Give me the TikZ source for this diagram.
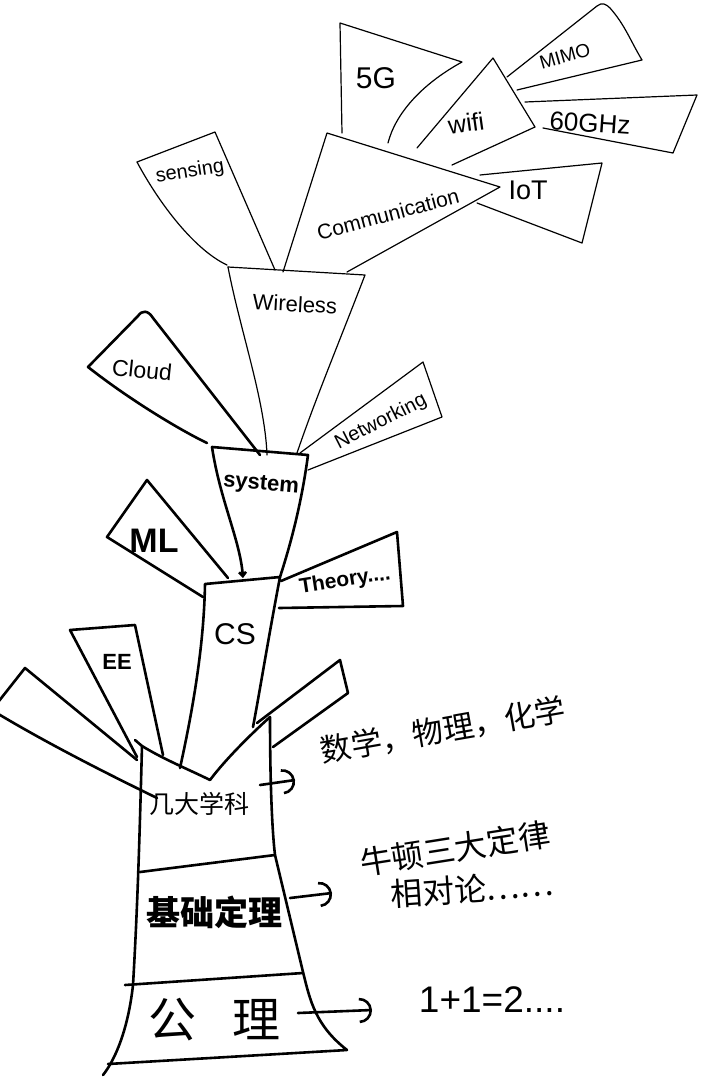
\documentclass[tikz,border=0pt]{standalone}
\usepackage{fontspec}
\setmainfont{Liberation Sans}
\newfontfamily\cjk{Noto Sans CJK SC}
\usetikzlibrary{arrows.meta}
\begin{document}
\begin{tikzpicture}[x=1pt,y=-1pt,
  thickln/.style={line width=2.6pt, line join=round, line cap=round},
  thinln/.style={line width=1.2pt, line join=round, line cap=round},
  lbl/.style={inner sep=0pt},
  hookarrow/.style={thickln, -{Arc Barb[scale=1.9]}},
  fsz/.style={node font=\fontsize{#1}{#1}\selectfont}]
\useasboundingbox (0,0) rectangle (720,1090);
\fill[white] (0,0) rectangle (720,1090);

% ---------- upper thin leaves ----------
% 5G
\draw[thinln] (342,133) -- (340,23) -- (462,62) .. controls (420,85) and (395,115) .. (388,143);
% wifi
\draw[thinln] (417,148) -- (493,58) -- (535,127) -- (452,165);
% MIMO
\draw[thinln] (507,77) -- (597,6) .. controls (602,2) and (606,4) .. (610,8) .. controls (625,25) and (630,40) .. (642,60) -- (517,90);
% 60GHz
\draw[thinln] (525,102) -- (697,95) -- (673,153) -- (543,128);
% IoT
\draw[thinln] (480,175) -- (602,163) -- (582,243) -- (477,203);
% Communication
\draw[thinln] (283,272) -- (327,133) -- (500,187) -- (347,272);
% Sensing
\draw[thinln] (275,270) -- (215,132) -- (137,162) .. controls (160,205) and (195,250) .. (227,265);
% Wireless
\draw[thinln] (228,267) -- (365,275) .. controls (340,340) and (315,400) .. (297,453);
\draw[thinln] (228,267) .. controls (240,330) and (265,400) .. (267,455);
% Networking
\draw[thinln] (300,453) -- (423,362) -- (442,417) -- (308,470);

% ---------- thick middle ----------
% Cloud
\draw[thickln] (260,455) -- (153,318) .. controls (148,310) and (142,310) .. (138,316) -- (88,367) .. controls (130,400) and (180,430) .. (207,443);
% System
\draw[thickln] (212,447) -- (308,455) .. controls (302,500) and (292,540) .. (280,577);
\draw[thickln, -{Straight Barb[length=4pt,width=7pt]}] (212,447) .. controls (220,500) and (240,540) .. (243,578);
% ML
\draw[thickln] (228,578) -- (147,480) -- (107,537) -- (203,597);
% Theory
\draw[thickln] (281,581) -- (397,532) -- (403,606) -- (279,608);
% CS
\draw[thickln] (180,768) .. controls (195,700) and (204,640) .. (205,584) -- (280,577) .. controls (268,640) and (260,690) .. (253,727);
% EE
\draw[thickln] (137,757) -- (70,630) -- (135,625) -- (163,755);
% left big branch
\draw[thickln] (137,760) -- (25,668) -- (-5,706);
\draw[thickln] (-5,712) .. controls (50,745) and (110,775) .. (157,798);
% right branch
\draw[thickln] (257,723) -- (340,660) -- (348,693) -- (273,747);

% ---------- trunk ----------
\draw[thickln] (135,740) -- (142,746) .. controls (165,760) and (190,770) .. (210,780) .. controls (225,760) and (250,735) .. (270,717);
\draw[thickln] (142,746) .. controls (140,820) and (138,900) .. (133,985) .. controls (128,1030) and (115,1060) .. (103,1075);
\draw[thickln] (270,717) .. controls (270,780) and (272,830) .. (275,855) -- (303,972) .. controls (310,1000) and (315,1025) .. (347,1050) -- (108,1064);
\draw[thickln] (140,872) -- (275,855);
\draw[thickln] (125,985) -- (303,973);

% ---------- labels ----------
\node[lbl, fsz=30] (t5g) at (376,78) {5G};
\node[lbl, fsz=25, rotate=8] (twifi) at (466,123) {wifi};
\node[lbl, fsz=19, rotate=16] (tmimo) at (565,56) {MIMO};
\node[lbl, fsz=26, rotate=-4] (t60) at (590,123) {60GHz};
\node[lbl, fsz=27] (tiot) at (528,190) {IoT};
\node[lbl, fsz=21, rotate=15] (tcomm) at (388,214) {Communication};
\node[lbl, fsz=20, rotate=9] (tsens) at (190,172) {sensing};
\node[lbl, fsz=22, rotate=-3] (twire) at (295,304) {Wireless};
\node[lbl, fsz=23, rotate=-6] (tcloud) at (142,370) {Cloud};
\node[lbl, fsz=20, rotate=27] (tnet) at (381,422) {Networking};
\node[lbl, fsz=22, font=\bfseries, rotate=-5] (tsys) at (261,485) {system};
\node[lbl, fsz=34, font=\bfseries] (tml) at (154,541) {ML};
\node[lbl, fsz=21, font=\bfseries, rotate=9] (tth) at (345,581) {Theory....};
\node[lbl, fsz=30] (tcs) at (235,634) {CS};
\node[lbl, fsz=22, font=\bfseries] (tee) at (117,662) {EE};

\node[lbl, fsz=25, font=\cjk] (tjd) at (199,804) {几大学科};
\node[lbl, fsz=34, font=\cjk\bfseries] (tjc) at (214,912) {基础定理};
\node[lbl, fsz=48, font=\cjk] (tgl) at (214,1020) {公\hspace{36pt}理};

\node[lbl, fsz=31, font=\cjk, rotate=10] (tsx) at (443,730) {数学，物理，化学};
\node[lbl, fsz=32, font=\cjk, rotate=9] (tnd) at (455,848) {牛顿三大定律};
\node[lbl, fsz=32, font=\cjk, rotate=4] (txd) at (472,889) {相对论……};
\node[lbl, fsz=37] (t12) at (492,1000) {1+1=2....};

\coordinate (a1s) at (260,785);
\coordinate (a1e) at (295,780);
\coordinate (a2s) at (290,898);
\coordinate (a2e) at (332,893);
\coordinate (a3s) at (298,1013);
\coordinate (a3e) at (372,1010);
\draw[hookarrow] (a1s) -- (a1e);
\draw[hookarrow] (a2s) -- (a2e);
\draw[hookarrow] (a3s) -- (a3e);
\end{tikzpicture}
\end{document}
